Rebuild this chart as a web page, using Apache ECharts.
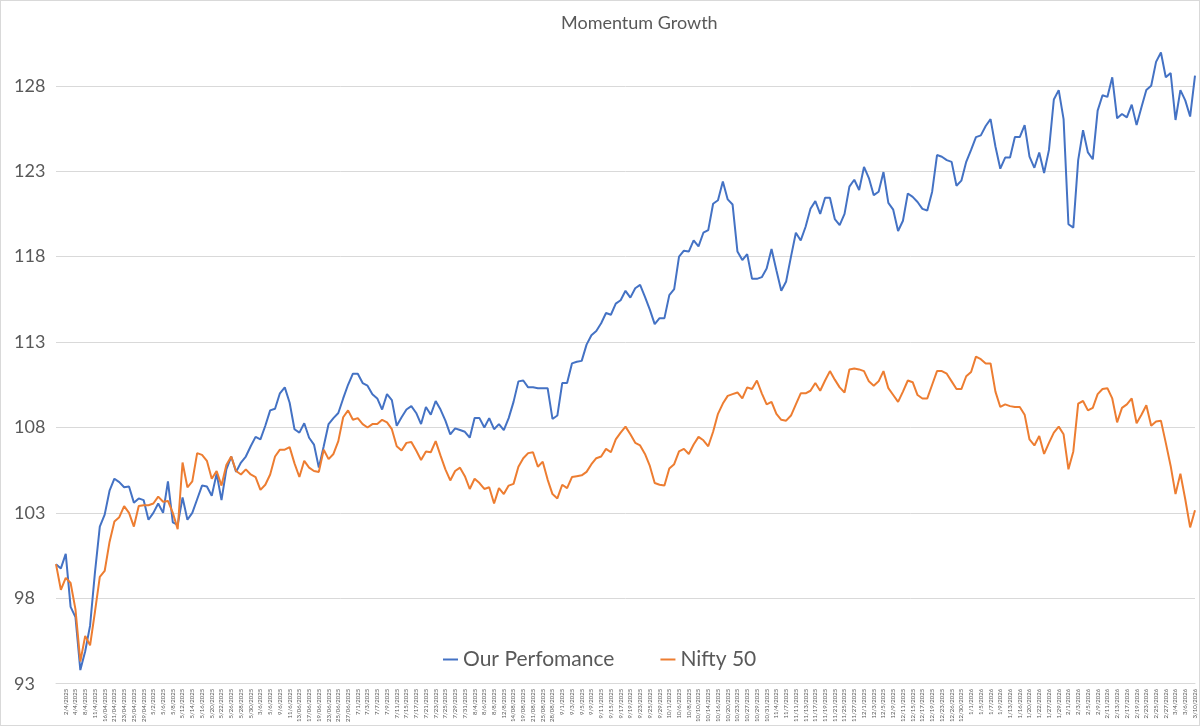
<!DOCTYPE html>
<html>
<head>
<meta charset="utf-8">
<script src="https://cdn.jsdelivr.net/npm/echarts@6/dist/echarts.min.js"></script>
<style>
  html, body { margin: 0; padding: 0; background: #fff; }
  #chart { width: 1200px; height: 726px; box-sizing: border-box; border: 1px solid #d9d9d9; }
</style>
</head>
<body>
<div id="chart"></div>
<script>
const chartTitle = "Momentum Growth";
const seriesNames = ["Our Perfomance", "Nifty 50"];

const dates = [
"28/03/2025","1/4/2025",
"2/4/2025","3/4/2025","4/4/2025","7/4/2025","8/4/2025","9/4/2025","11/4/2025","15/04/2025","16/04/2025","17/04/2025","21/04/2025","22/04/2025","23/04/2025","24/04/2025","25/04/2025","28/04/2025","29/04/2025","30/04/2025",
"5/2/2025","5/5/2025","5/6/2025","5/7/2025","5/8/2025","5/9/2025","5/12/2025","5/13/2025","5/14/2025","5/15/2025","5/16/2025","5/19/2025","5/20/2025","5/21/2025","5/22/2025","5/23/2025","5/26/2025","5/27/2025","5/28/2025","5/29/2025","5/30/2025",
"2/6/2025","3/6/2025","4/6/2025","5/6/2025","6/6/2025","9/6/2025","10/6/2025","11/6/2025","12/6/2025","13/06/2025","16/06/2025","17/06/2025","18/06/2025","19/06/2025","20/06/2025","23/06/2025","24/06/2025","25/06/2025","26/06/2025","27/06/2025","30/06/2025",
"7/1/2025","7/2/2025","7/3/2025","7/4/2025","7/7/2025","7/8/2025","7/9/2025","7/10/2025","7/11/2025","7/14/2025","7/15/2025","7/16/2025","7/17/2025","7/18/2025","7/21/2025","7/22/2025","7/23/2025","7/24/2025","7/25/2025","7/28/2025","7/29/2025","7/30/2025","7/31/2025",
"8/1/2025","8/4/2025","8/5/2025","8/6/2025","8/7/2025","8/8/2025","11/8/2025","12/8/2025","13/08/2025","14/08/2025","18/08/2025","19/08/2025","20/08/2025","21/08/2025","22/08/2025","25/08/2025","26/08/2025","28/08/2025","29/08/2025",
"9/1/2025","9/2/2025","9/3/2025","9/4/2025","9/5/2025","9/8/2025","9/9/2025","9/10/2025","9/11/2025","9/12/2025","9/15/2025","9/16/2025","9/17/2025","9/18/2025","9/19/2025","9/22/2025","9/23/2025","9/24/2025","9/25/2025","9/26/2025","9/29/2025","9/30/2025",
"10/1/2025","10/3/2025","10/6/2025","10/7/2025","10/8/2025","10/9/2025","10/10/2025","10/13/2025","10/14/2025","10/15/2025","10/16/2025","10/17/2025","10/20/2025","10/21/2025","10/23/2025","10/24/2025","10/27/2025","10/28/2025","10/29/2025","10/30/2025","10/31/2025",
"11/3/2025","11/4/2025","11/6/2025","11/7/2025","11/10/2025","11/11/2025","11/12/2025","11/13/2025","11/14/2025","11/17/2025","11/18/2025","11/19/2025","11/20/2025","11/21/2025","11/24/2025","11/25/2025","11/26/2025","11/27/2025","11/28/2025",
"12/1/2025","12/2/2025","12/3/2025","12/4/2025","12/5/2025","12/8/2025","12/9/2025","12/10/2025","12/11/2025","12/12/2025","12/15/2025","12/16/2025","12/17/2025","12/18/2025","12/19/2025","12/22/2025","12/23/2025","12/24/2025","12/26/2025","12/29/2025","12/30/2025","12/31/2025",
"1/1/2026","1/2/2026","1/5/2026","1/6/2026","1/7/2026","1/8/2026","1/9/2026","1/12/2026","1/13/2026","1/14/2026","1/16/2026","1/19/2026","1/20/2026","1/21/2026","1/22/2026","1/23/2026","1/27/2026","1/28/2026","1/29/2026","1/30/2026",
"2/1/2026","2/2/2026","2/3/2026","2/4/2026","2/5/2026","2/6/2026","2/9/2026","2/10/2026","2/11/2026","2/12/2026","2/13/2026","2/16/2026","2/17/2026","2/18/2026","2/19/2026","2/20/2026","2/23/2026","2/24/2026","2/25/2026","2/26/2026","2/27/2026",
"3/2/2026","3/4/2026","3/5/2026","3/6/2026","3/9/2026","3/10/2026"
];

const ourPerformance = [
100.0,99.75,100.6,97.5,96.9,93.8,94.9,96.4,99.5,102.2,
102.9,104.3,105.0,104.8,104.5,104.55,103.6,103.85,103.75,102.6,
103.0,103.55,103.0,104.85,102.45,102.3,103.9,102.6,103.0,103.8,
104.6,104.55,104.0,105.3,103.75,105.55,106.3,105.4,105.95,106.3,
106.9,107.45,107.3,108.1,109.0,109.1,110.0,110.35,109.45,107.9,
107.7,108.25,107.4,107.0,105.65,106.9,108.2,108.55,108.85,109.7,
110.5,111.15,111.15,110.6,110.45,109.95,109.7,109.05,109.95,109.6,
108.1,108.6,109.05,109.25,108.85,108.2,109.2,108.75,109.55,109.05,
108.4,107.6,107.95,107.85,107.75,107.4,108.55,108.55,108.0,108.55,
107.9,108.2,107.85,108.55,109.5,110.7,110.75,110.35,110.35,110.3,
110.3,110.3,108.5,108.7,110.6,110.6,111.75,111.85,111.9,112.85,
113.4,113.65,114.1,114.7,114.6,115.25,115.45,116.0,115.6,116.15,
116.35,115.65,114.9,114.05,114.4,114.4,115.75,116.1,118.0,118.35,
118.3,118.95,118.6,119.4,119.55,121.1,121.3,122.4,121.35,121.05,
118.3,117.8,118.15,116.7,116.7,116.8,117.3,118.45,117.2,116.0,
116.55,118.0,119.4,118.95,119.75,120.8,121.25,120.5,121.45,121.45,
120.2,119.85,120.5,122.1,122.5,121.9,123.25,122.6,121.6,121.8,
122.95,121.15,120.75,119.5,120.1,121.7,121.5,121.2,120.8,120.7,
121.8,123.95,123.85,123.65,123.55,122.15,122.45,123.55,124.25,125.0,
125.1,125.65,126.05,124.45,123.15,123.8,123.8,125.0,125.0,125.7,
123.85,123.2,124.1,122.9,124.25,127.2,127.75,126.05,119.9,119.7,
123.65,125.4,124.1,123.7,126.55,127.45,127.35,128.5,126.1,126.35,
126.15,126.9,125.7,126.75,127.75,128.0,129.4,129.95,128.5,128.75,
126.0,127.75,127.15,126.2,128.6
];

const nifty50 = [
100.0,98.5,99.2,98.9,97.35,94.3,95.8,95.25,97.2,99.25,
99.6,101.3,102.5,102.75,103.4,103.0,102.2,103.4,103.45,103.45,
103.55,103.95,103.65,103.7,103.0,102.05,105.95,104.5,104.85,106.5,
106.4,106.05,105.0,105.45,104.6,105.8,106.3,105.45,105.25,105.55,
105.25,105.1,104.35,104.65,105.25,106.3,106.7,106.7,106.85,105.9,
105.1,106.05,105.65,105.45,105.4,106.7,106.15,106.45,107.2,108.6,
109.0,108.45,108.55,108.2,108.0,108.2,108.2,108.45,108.3,107.9,
106.9,106.65,107.1,107.15,106.65,106.1,106.6,106.55,107.2,106.35,
105.55,104.9,105.45,105.65,105.15,104.4,105.0,104.75,104.4,104.5,
103.55,104.45,104.1,104.6,104.7,105.7,106.2,106.5,106.55,105.7,
106.0,104.95,104.1,103.85,104.65,104.45,105.1,105.15,105.2,105.4,
105.85,106.2,106.3,106.75,106.55,107.3,107.7,108.05,107.6,107.1,
106.95,106.45,105.75,104.75,104.65,104.6,105.6,105.85,106.6,106.75,
106.45,107.0,107.45,107.25,106.9,107.75,108.8,109.4,109.85,109.95,
110.05,109.7,110.35,110.25,110.75,110.0,109.35,109.5,108.8,108.45,
108.4,108.7,109.35,110.0,110.0,110.15,110.6,110.15,110.75,111.3,
110.8,110.35,110.05,111.4,111.45,111.4,111.3,110.7,110.45,110.7,
111.3,110.3,109.9,109.5,110.1,110.75,110.65,109.9,109.7,109.7,
110.5,111.3,111.3,111.15,110.7,110.25,110.25,111.0,111.25,112.15,
112.0,111.75,111.75,110.1,109.2,109.35,109.25,109.2,109.2,108.75,
107.3,106.95,107.5,106.45,107.1,107.7,108.05,107.6,105.55,106.6,
109.4,109.55,109.0,109.15,109.95,110.25,110.3,109.7,108.3,109.15,
109.35,109.7,108.25,108.75,109.3,108.1,108.35,108.4,107.1,105.75,
104.1,105.3,103.8,102.15,103.15
];

const yMin = 93, yMax = 131, yStep = 5;

const textColor = "#595959";
const gridColor = "#d9d9d9";
const fontFamily = "Lato, 'Open Sans', sans-serif";

const chart = echarts.init(document.getElementById("chart"), null, { renderer: "canvas" });
chart.setOption({
  animation: false,
  backgroundColor: "#ffffff",
  title: {
    text: chartTitle,
    left: 555,
    top: 8,
    textStyle: { color: textColor, fontSize: 18, fontWeight: "normal", fontFamily: fontFamily }
  },
  legend: {
    data: seriesNames,
    left: 437,
    top: 643,
    icon: "rect",
    itemWidth: 15,
    itemHeight: 2,
    itemGap: 46,
    textStyle: { color: textColor, fontSize: 21, fontFamily: fontFamily }
  },
  grid: { left: 55, right: 4, top: 685 - (yMax - yMin) * 600 / 35, bottom: 41, containLabel: false },
  xAxis: {
    type: "category",
    data: dates,
    boundaryGap: false,
    axisLine: { show: true, lineStyle: { color: gridColor, width: 1 } },
    axisTick: { show: false },
    axisLabel: {
      rotate: 90,
      margin: 5,
      fontSize: 6,
      color: textColor,
      fontFamily: fontFamily,
      hideOverlap: false,
      interval: function (index) { return index >= 2 && index % 2 === 0; }
    },
    splitLine: { show: false }
  },
  yAxis: {
    type: "value",
    min: yMin,
    max: yMax,
    interval: yStep,
    axisLine: { show: false },
    axisTick: { show: false },
    axisLabel: {
      color: textColor,
      fontSize: 18,
      fontFamily: fontFamily,
      align: "left",
      margin: 42,
      showMaxLabel: false
    },
    splitLine: { show: true, showMaxLine: false, lineStyle: { color: gridColor, width: 1 } }
  },
  series: [
    {
      name: seriesNames[0],
      type: "line",
      data: ourPerformance,
      symbol: "none",
      lineStyle: { color: "#4472C4", width: 2 },
      itemStyle: { color: "#4472C4" }
    },
    {
      name: seriesNames[1],
      type: "line",
      data: nifty50,
      symbol: "none",
      lineStyle: { color: "#ED7D31", width: 2 },
      itemStyle: { color: "#ED7D31" }
    }
  ]
});
</script>
</body>
</html>
